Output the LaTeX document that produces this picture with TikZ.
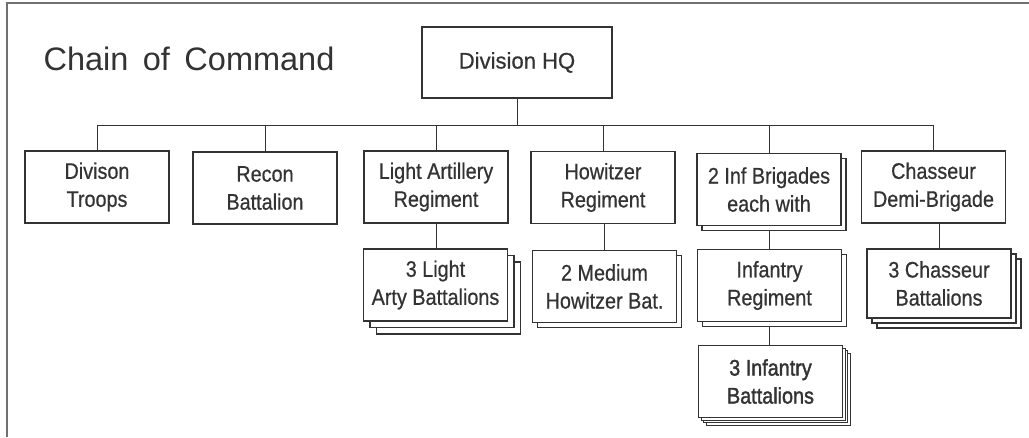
\documentclass[tikz,border=0pt]{standalone}
\usepackage{fontspec}
\setmainfont{Liberation Sans}
\newfontfamily\condfont{Liberation Sans}[FakeStretch=0.88, FakeBold=0.6]
\newfontfamily\heavyfont{Liberation Sans}[FakeStretch=0.88, FakeBold=1.6]
\newfontfamily\hqfont{Liberation Sans}[FakeStretch=0.98, FakeBold=0.6]
\newfontfamily\titlefont{Liberation Sans}[WordSpace=1.6]
\usetikzlibrary{shadows}
\definecolor{inkgray}{HTML}{333333}
\definecolor{framegray}{HTML}{707070}
\pgfdeclarelayer{background}
\pgfsetlayers{background,main}

\begin{document}
\begin{tikzpicture}[
    x=1pt, y=-1pt,
    line width=1.2pt,
    unit/.style={draw=inkgray, fill=white, rectangle, minimum width=144pt, minimum height=72pt,
        inner sep=0pt, align=center, text=inkgray, font=\condfont\fontsize{22.5}{28}\selectfont},
    copyback/.style={general shadow={shadow xshift=#1, shadow yshift=-#1, fill=white, draw=inkgray}},
    title/.style={anchor=base west, inner sep=0pt, text=inkgray, font=\titlefont\fontsize{32.5}{40}\selectfont}
]
\useasboundingbox (0,0) rectangle (1029,437);

% frame
\draw[framegray, line width=2pt] (7,437) -- (7,3) -- (1029,3);

\node[title] (title) at (43,70) {Chain of Command};

% top
\node[unit, minimum width=190pt, minimum height=71pt, font=\hqfont\fontsize{22.5}{28}\selectfont] (hq) at (517,62.5) {Division HQ};
\coordinate (bus) at (0,125);

% first row
\node[unit] (troops) at (97,187) {Divison\\Troops};
\node[unit] (recon) at (265,188) {Recon\\Battalion};
\node[unit] (lightreg) at (436,187) {Light Artillery\\Regiment};
\node[unit] (howreg) at (603,187.5) {Howitzer\\Regiment};
\node[unit, copyback=5pt] (infbde) at (769,189.5) {2 Inf Brigades\\each with};
\node[unit] (chreg) at (933.5,187) {Chasseur\\Demi-Brigade};

% second row
\node[unit, copyback=13pt, copyback=6.5pt] (lightbat) at (435.5,285) {3 Light\\Arty Battalions};
\node[unit, copyback=5pt] (medbat) at (604.5,286.5) {2 Medium\\Howitzer Bat.};
\node[unit, copyback=5pt] (infreg) at (769.5,285.5) {Infantry\\Regiment};
\node[unit, minimum height=69pt, copyback=10pt, copyback=5pt] (chbat) at (939,283.5) {3 Chasseur\\Battalions};

% third row
\node[unit, font=\heavyfont\fontsize{22.5}{28}\selectfont, copyback=8pt, copyback=5.3pt, copyback=2.7pt] (infbat) at (770.5,381.5) {3 Infantry\\Battalions};

% lines
\begin{pgfonlayer}{background}
\draw[inkgray] (hq.south) -- (hq.south |- bus);
\draw[inkgray] (troops.north |- bus) -- (chreg.north |- bus);
\foreach \n in {troops,recon,lightreg,howreg,infbde,chreg}
    \draw[inkgray] (\n.north) -- (\n.north |- bus);
\draw[inkgray] (lightreg.south) -- (lightreg.south |- lightbat.north);
\draw[inkgray] (medbat.north) -- (medbat.north |- howreg.south);
\draw[inkgray] (infbde.south) -- (infbde.south |- infreg.north);
\draw[inkgray] (infreg.south) -- (infreg.south |- infbat.north);
\draw[inkgray] (chbat.north) -- (chbat.north |- chreg.south);
\end{pgfonlayer}

\end{tikzpicture}
\end{document}
